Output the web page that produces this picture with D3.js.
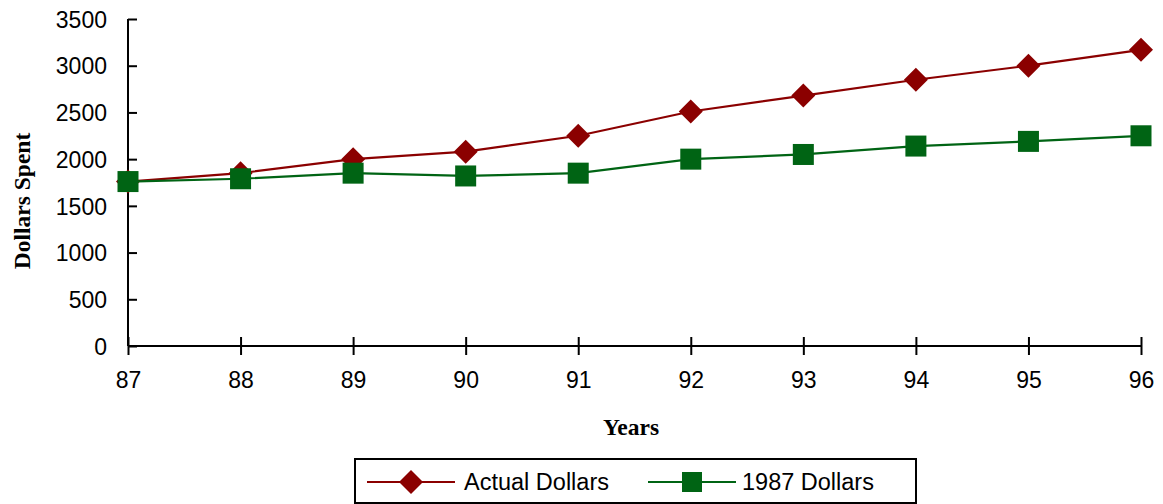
<!DOCTYPE html>
<html>
<head>
<meta charset="utf-8">
<script src="https://cdn.jsdelivr.net/npm/d3@7"></script>
<style>
  html, body { margin: 0; padding: 0; background: #fff; }
  svg { display: block; }
  .tick text { font-family: "Liberation Sans", Arial, sans-serif; font-size: 23px; fill: #000; }
  .axis-title { font-family: "Liberation Serif", "Times New Roman", serif; font-size: 23.5px; font-weight: bold; fill: #000; }
  .legend-text { font-family: "Liberation Sans", Arial, sans-serif; font-size: 23.5px; fill: #000; }
</style>
</head>
<body>
<svg id="chart" width="1163" height="504"></svg>
<script>
// Spending per year, in actual and in constant 1987 dollars
const years = ["87", "88", "89", "90", "91", "92", "93", "94", "95", "96"];
const actualDollars = [1760, 1850, 2000, 2080, 2250, 2510, 2680, 2850, 3000, 3170];
const constantDollars = [1760, 1790, 1850, 1820, 1850, 2000, 2050, 2140, 2190, 2250];
const yTicks = [0, 500, 1000, 1500, 2000, 2500, 3000, 3500];
const seriesNames = ["Actual Dollars", "1987 Dollars"];

const red = "#8b0000";
const green = "#006414";

const svg = d3.select("#chart");
const plotLeft = 128, plotRight = 1141, plotTop = 19, plotBottom = 346;

const x = d3.scalePoint().domain(years).range([plotLeft, plotRight]);
const y = d3.scaleLinear().domain([0, 3500]).range([plotBottom, plotTop]);

// Y axis with ticks crossing the axis line
const yAxis = svg.append("g")
  .attr("transform", `translate(${plotLeft},0)`)
  .call(d3.axisLeft(y).tickValues(yTicks).tickFormat(d3.format("d"))
    .tickSize(8).tickSizeOuter(0).tickPadding(13));
yAxis.selectAll(".tick line").attr("x2", 9).attr("stroke", "#000").attr("stroke-width", 2);
yAxis.select(".domain").attr("stroke", "#000").attr("stroke-width", 2).attr("d", `M0,${plotTop}V${plotBottom}`);
yAxis.selectAll(".tick text").attr("dy", "0.36em");

// X axis
const xAxis = svg.append("g")
  .attr("transform", `translate(0,${plotBottom})`)
  .call(d3.axisBottom(x).tickSize(9).tickSizeOuter(0).tickPadding(17));
xAxis.selectAll(".tick line").attr("y1", -9).attr("stroke", "#000").attr("stroke-width", 2);
xAxis.select(".domain").attr("stroke", "#000").attr("stroke-width", 2).attr("d", `M${plotLeft},0H${plotRight}`);

// Axis titles
svg.append("text").attr("class", "axis-title")
  .attr("x", 631).attr("y", 435).attr("text-anchor", "middle").text("Years");
svg.append("text").attr("class", "axis-title")
  .attr("transform", "translate(30,201) rotate(-90)")
  .attr("text-anchor", "middle").text("Dollars Spent");

const line = d3.line().x((d, i) => x(years[i])).y(d => y(d));

// Actual dollars series
svg.append("path").datum(actualDollars)
  .attr("d", line).attr("fill", "none").attr("stroke", red).attr("stroke-width", 2.2);
const diamond = d3.symbol().type(d3.symbolSquare).size(288);
svg.append("g").selectAll("path").data(actualDollars).join("path")
  .attr("d", diamond)
  .attr("transform", (d, i) => `translate(${x(years[i])},${y(d)}) rotate(45)`)
  .attr("fill", red);

// 1987 dollars series
svg.append("path").datum(constantDollars)
  .attr("d", line).attr("fill", "none").attr("stroke", green).attr("stroke-width", 2.2);
svg.append("g").selectAll("rect").data(constantDollars).join("rect")
  .attr("x", (d, i) => x(years[i]) - 10.5).attr("y", d => y(d) - 10.5)
  .attr("width", 21).attr("height", 21)
  .attr("fill", green);

// Legend
const legend = svg.append("g");
legend.append("rect").attr("x", 355).attr("y", 459).attr("width", 561).attr("height", 44)
  .attr("fill", "#fff").attr("stroke", "#000").attr("stroke-width", 2);
const items = [
  { name: seriesNames[0], color: red, x0: 367, tx: 464, shape: "diamond" },
  { name: seriesNames[1], color: green, x0: 648, tx: 742, shape: "square" }
];
const ly = 482;
items.forEach(it => {
  legend.append("line").attr("x1", it.x0).attr("x2", it.x0 + 88).attr("y1", ly).attr("y2", ly)
    .attr("stroke", it.color).attr("stroke-width", 2);
  const cx = it.x0 + 44;
  if (it.shape === "diamond") {
    legend.append("path").attr("d", diamond)
      .attr("transform", `translate(${cx},${ly}) rotate(45)`).attr("fill", it.color);
  } else {
    legend.append("rect").attr("x", cx - 10).attr("y", ly - 10)
      .attr("width", 20).attr("height", 20).attr("fill", it.color);
  }
  legend.append("text").attr("class", "legend-text")
    .attr("x", it.tx).attr("y", ly).attr("dy", "0.36em").text(it.name);
});
</script>
</body>
</html>
